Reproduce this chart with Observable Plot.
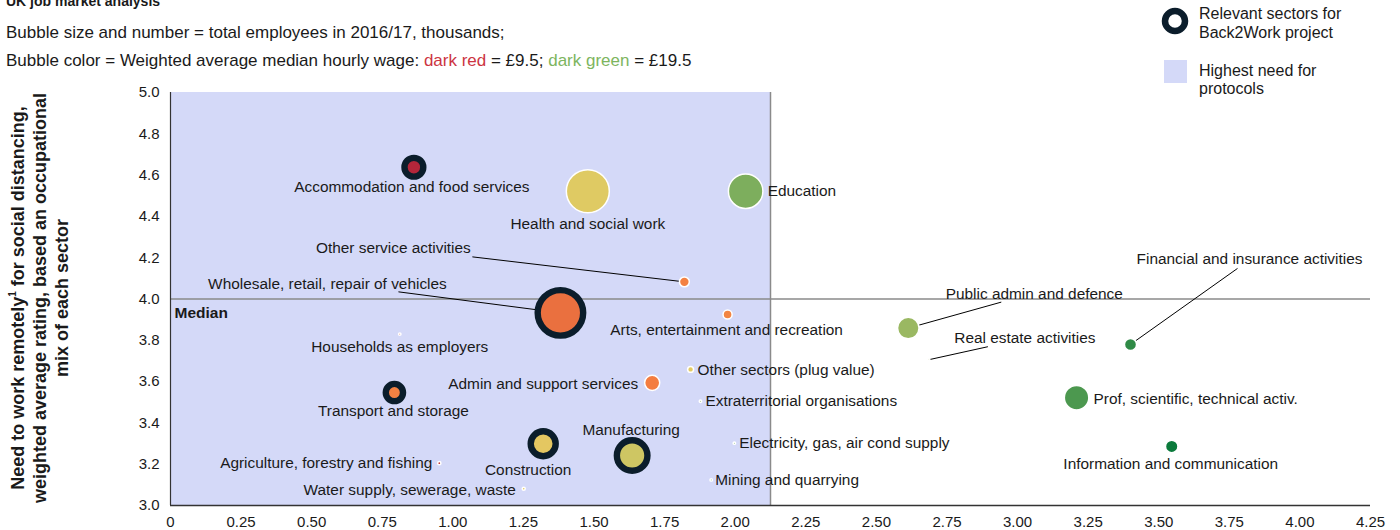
<!DOCTYPE html>
<html>
<head>
<meta charset="utf-8">
<script src="https://cdn.jsdelivr.net/npm/d3@7"></script>
<script src="https://cdn.jsdelivr.net/npm/@observablehq/plot@0.6"></script>
<style>
  html, body { margin: 0; padding: 0; background: #fff; }
  #wrap { position: relative; width: 1400px; height: 530px; overflow: hidden; font-family: Arial, "Liberation Sans", sans-serif; color: #1a1a1a; }
  .abs { position: absolute; white-space: nowrap; line-height: 1; }
</style>
</head>
<body>
<div id="wrap">
  <div id="chart" class="abs" style="left:0;top:0"></div>
  <div class="abs" style="left:6px;top:-6px;font-weight:bold;font-size:14px">UK job market analysis</div>
  <div class="abs" style="left:6px;top:23.7px;font-size:17px">Bubble size and number = total employees in 2016/17, thousands;</div>
  <div class="abs" style="left:6px;top:51.7px;font-size:17px">Bubble color = Weighted average median hourly wage: <span style="color:#CC3442">dark red</span> = £9.5; <span style="color:#7DB55E">dark green</span> = £19.5</div>
  <svg class="abs" style="left:1150px;top:0" width="250" height="100" font-family="Arial, 'Liberation Sans', sans-serif" font-size="16" fill="#1a1a1a">
    <circle cx="25" cy="21" r="10" fill="none" stroke="#0B1D2B" stroke-width="6.5"></circle>
    <text x="49" y="19">Relevant sectors for</text>
    <text x="49" y="37.5">Back2Work project</text>
    <rect x="14" y="60" width="23" height="23" fill="#D4D9F8"></rect>
    <text x="49" y="76">Highest need for</text>
    <text x="49" y="94">protocols</text>
  </svg>
  <svg class="abs" style="left:0;top:0" width="100" height="530" font-family="Arial, 'Liberation Sans', sans-serif" font-size="18" font-weight="bold" fill="#1a1a1a">
    <text transform="translate(18,298) rotate(-90)" text-anchor="middle" dominant-baseline="central">Need to work remotely<tspan dy="-6" font-size="10">1</tspan><tspan dy="6"> for social distancing,</tspan></text>
    <text transform="translate(40,298) rotate(-90)" text-anchor="middle" dominant-baseline="central">weighted average rating, based an occupational</text>
    <text transform="translate(62,298) rotate(-90)" text-anchor="middle" dominant-baseline="central">mix of each sector</text>
  </svg>
</div>
<script>
// ---------------- data ----------------
const sectors = [
  "Accommodation and food services",
  "Health and social work",
  "Education",
  "Other service activities",
  "Wholesale, retail, repair of vehicles",
  "Arts, entertainment and recreation",
  "Households as employers",
  "Public admin and defence",
  "Real estate activities",
  "Financial and insurance activities",
  "Other sectors (plug value)",
  "Admin and support services",
  "Transport and storage",
  "Prof, scientific, technical activ.",
  "Extraterritorial organisations",
  "Manufacturing",
  "Construction",
  "Electricity, gas, air cond supply",
  "Information and communication",
  "Agriculture, forestry and fishing",
  "Mining and quarrying",
  "Water supply, sewerage, waste"
];
const xScore     = [0.862, 1.478, 2.037, 1.820, 1.381, 1.973, 0.812, 2.613, 2.686, 3.400, 1.842, 1.706, 0.793, 3.209, 1.877, 1.635, 1.320, 1.997, 3.546, 0.952, 1.915, 1.251];
const remoteNeed = [4.638, 4.522, 4.522, 4.083, 3.933, 3.925, 3.830, 3.859, 3.706, 3.780, 3.659, 3.594, 3.547, 3.522, 3.505, 3.242, 3.299, 3.302, 3.286, 3.205, 3.124, 3.081];
const employees  = [820, 4290, 2760, 227, 4800, 192, 14, 1072, 9, 340, 81, 530, 690, 1392, 14, 2170, 1450, 14, 362, 24, 14, 22];
const wages      = [9.5, 13.6, 16.0, 11.6, 11.2, 11.7, 10.5, 15.2, 14.6, 18.4, 13.5, 11.5, 11.6, 17.5, 16.0, 14.0, 13.4, 17.0, 19.5, 10.0, 17.5, 13.5];
const relevantSectors = [
  "Accommodation and food services",
  "Wholesale, retail, repair of vehicles",
  "Transport and storage",
  "Construction",
  "Manufacturing"
];
const xTicks = [0, 0.25, 0.5, 0.75, 1, 1.25, 1.5, 1.75, 2, 2.25, 2.5, 2.75, 3, 3.25, 3.5, 3.75, 4, 4.25];
const yTicks = [3.0, 3.2, 3.4, 3.6, 3.8, 4.0, 4.2, 4.4, 4.6, 4.8, 5.0];
const xDomain = [0, 4.25];
const yDomain = [3, 5];
const medianY = 4.0;
const protocolXMax = 2.125;
const wageStops = [9.5, 11.5, 13.5, 15.5, 19.5];

// ---------------- layout (pixel offsets of labels / leader lines) ----------------
const labelLayout = {
  "Accommodation and food services": [-2, 20, "middle"],
  "Health and social work": [0, 33, "middle"],
  "Education": [22, 0, "start"],
  "Other service activities": [-291, -34, "middle"],
  "Wholesale, retail, repair of vehicles": [-233, -29, "middle"],
  "Arts, entertainment and recreation": [-1, 16, "middle"],
  "Households as employers": [0, 13, "middle"],
  "Public admin and defence": [126, -34, "middle"],
  "Real estate activities": [96, -22, "middle"],
  "Financial and insurance activities": [119, -85, "middle"],
  "Other sectors (plug value)": [7, 1, "start"],
  "Admin and support services": [-14, 1, "end"],
  "Transport and storage": [-1, 19, "middle"],
  "Prof, scientific, technical activ.": [17, 1, "start"],
  "Extraterritorial organisations": [5, 0, "start"],
  "Manufacturing": [-1, -25, "middle"],
  "Construction": [-15, 26, "middle"],
  "Electricity, gas, air cond supply": [5, 0, "start"],
  "Information and communication": [-1, 18, "middle"],
  "Agriculture, forestry and fishing": [-7, 0, "end"],
  "Mining and quarrying": [4, 0, "start"],
  "Water supply, sewerage, waste": [-8, 1, "end"]
};
const leaderLayout = {
  "Other service activities": [-212, -25],
  "Wholesale, retail, repair of vehicles": [-162, -21],
  "Public admin and defence": [93, -26],
  "Real estate activities": [59, -13],
  "Financial and insurance activities": [107, -76]
};

const W = 1400, H = 530, mL = 170, mR = 30, mT = 92, mB = 25;
const xs = Plot.scale({x: {domain: xDomain, range: [mL, W - mR]}});
const ys = Plot.scale({y: {domain: yDomain, range: [H - mB, mT]}});
const shiftX = (v, px) => xs.invert(xs.apply(v) + px);
const shiftY = (v, px) => ys.invert(ys.apply(v) + px);

const rows = sectors.map((name, i) => ({
  name, x: xScore[i], y: remoteNeed[i], employees: employees[i], wage: wages[i],
  relevant: relevantSectors.includes(name)
}));
const labels = rows.map(d => {
  const [dx, dy, anchor] = labelLayout[d.name];
  return {name: d.name, anchor, lx: shiftX(d.x, dx), ly: shiftY(d.y, dy)};
});
const leaders = rows.filter(d => leaderLayout[d.name]).map(d => {
  const [dx, dy] = leaderLayout[d.name];
  return {x1: d.x, y1: d.y, x2: shiftX(d.x, dx), y2: shiftY(d.y, dy)};
});

const ink = "#1a1a1a";
const textMark = anchor => Plot.text(labels.filter(l => l.anchor === anchor), {
  x: "lx", y: "ly", text: "name", textAnchor: anchor, fill: ink, fontSize: 15.4
});

const chart = Plot.plot({
  width: W, height: H,
  marginLeft: mL, marginRight: mR, marginTop: mT, marginBottom: mB,
  style: {fontFamily: "Arial, 'Liberation Sans', sans-serif", fontSize: "15px", color: ink, background: "transparent", overflow: "visible"},
  x: {domain: xDomain, ticks: xTicks, tickFormat: d => d === 0 ? "0" : d.toFixed(2), tickSize: 0, tickPadding: 11, label: null},
  y: {domain: yDomain, ticks: yTicks, tickFormat: d => d.toFixed(1), tickSize: 0, tickPadding: 11, label: null},
  r: {type: "sqrt", domain: [0, 4800], range: [0, 22.75]},
  color: {type: "linear", domain: wageStops, range: ["#B3263A", "#F47D40", "#E3CB63", "#8DB562", "#0B7A3B"]},
  marks: [
    Plot.rect([{x1: xDomain[0], x2: protocolXMax, y1: yDomain[0], y2: yDomain[1]}], {x1: "x1", x2: "x2", y1: "y1", y2: "y2", fill: "#D4D9F8"}),
    Plot.ruleX([protocolXMax], {stroke: "#8a8a8a", strokeWidth: 1.5}),
    Plot.ruleY([medianY], {stroke: "#8a8a8a", strokeWidth: 1.5}),
    Plot.ruleY([yDomain[0]], {stroke: "#333", strokeWidth: 1.5}),
    Plot.ruleX([xDomain[0]], {stroke: "#333", strokeWidth: 1.2}),
    Plot.link(leaders, {x1: "x1", y1: "y1", x2: "x2", y2: "y2", stroke: "#000", strokeWidth: 1}),
    Plot.dot(rows.filter(d => !d.relevant), {x: "x", y: "y", r: "employees", fill: "wage", stroke: "#fff", strokeWidth: 1.5}),
    Plot.dot(rows.filter(d => d.relevant), {x: "x", y: "y", r: "employees", fill: "wage", stroke: "#0B1D2B", strokeWidth: 6.4}),
    textMark("middle"), textMark("start"), textMark("end"),
    Plot.text(["Median"], {x: () => xDomain[0], y: () => medianY, text: d => d, dx: 4, dy: 14, textAnchor: "start", fontWeight: "bold", fontSize: 15.5, fill: ink})
  ]
});
document.getElementById("chart").appendChild(chart);
</script>
</body>
</html>
